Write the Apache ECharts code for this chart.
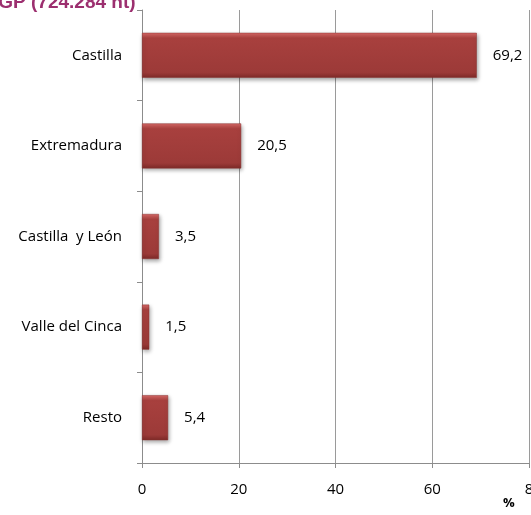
<!DOCTYPE html>
<html><head><meta charset="utf-8">
<script src="https://cdn.jsdelivr.net/npm/echarts@6/dist/echarts.min.js"></script>
<style>html,body{margin:0;padding:0;background:#fff}#c{width:531px;height:515px}</style>
</head><body><div id="c"></div>
<script>
var categories = ["Castilla", "Extremadura", "Castilla  y León", "Valle del Cinca", "Resto"];
var values = [69.2, 20.5, 3.5, 1.5, 5.4];
var xTicks = [0, 20, 40, 60, 80];
var titleText = "IGP (724.284 ht)";
var unitText = "%";

var chart = echarts.init(document.getElementById('c'), null, {renderer: 'canvas'});
var font = '"Open Sans", "DejaVu Sans", sans-serif';
chart.setOption({
  animation: false,
  title: {
    text: titleText, left: -12, top: -12,
    textStyle: {color: '#9c2f6f', fontSize: 19, fontWeight: 'bold', fontFamily: 'Arial, "Liberation Sans", sans-serif'}
  },
  graphic: [{
    type: 'text', left: 503, top: 497,
    style: {text: unitText, fontFamily: font, fontSize: 13, fontWeight: 'bold', fill: '#000'}
  }],
  grid: {left: 142, right: 2, top: 10, bottom: 52, containLabel: false, outerBoundsMode: 'none'},
  xAxis: {
    type: 'value', min: xTicks[0], max: xTicks[xTicks.length - 1], interval: 20,
    axisLine: {show: true, lineStyle: {color: '#8c8c8c', width: 1}},
    axisTick: {show: true, length: 5, lineStyle: {color: '#8c8c8c'}},
    splitLine: {show: true, lineStyle: {color: '#9a9a9a', width: 1}},
    axisLabel: {fontFamily: font, fontSize: 15, color: '#000', margin: 19, showMaxLabel: true, hideOverlap: false,
      formatter: function (v) { return v === 80 ? '8' : String(v); }}
  },
  yAxis: {
    type: 'category', data: categories, inverse: true,
    axisLine: {show: true, lineStyle: {color: '#8c8c8c', width: 1}},
    axisTick: {show: true, length: 5, lineStyle: {color: '#8c8c8c'}},
    axisLabel: {fontFamily: font, fontSize: 15, color: '#000', margin: 20}
  },
  series: [{
    type: 'bar', data: values, barWidth: 45,
    itemStyle: {
      color: new echarts.graphic.LinearGradient(0, 0, 0, 1, [
        {offset: 0, color: '#d96a68'},
        {offset: 0.12, color: '#a8403e'},
        {offset: 0.88, color: '#9c3a38'},
        {offset: 1, color: '#7e2a28'}
      ]),
      borderColor: '#8a3230', borderWidth: 0.5,
      shadowColor: 'rgba(0,0,0,0.35)', shadowBlur: 4, shadowOffsetY: 2, shadowOffsetX: 1
    },
    label: {
      show: true, position: 'right', distance: 16,
      fontFamily: font, fontSize: 15, color: '#000',
      formatter: function (p) { return String(p.value).replace('.', ','); }
    }
  }]
});
</script></body></html>
